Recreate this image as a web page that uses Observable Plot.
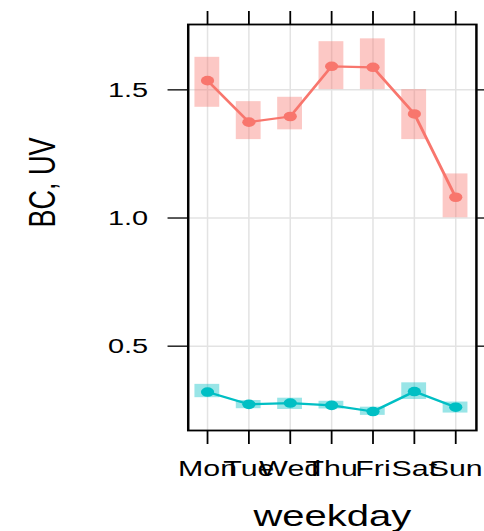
<!DOCTYPE html>
<html><head><meta charset="utf-8">
<script src="https://cdn.jsdelivr.net/npm/d3@7"></script>
<script src="https://cdn.jsdelivr.net/npm/@observablehq/plot@0.6"></script>
<style>html,body{margin:0;padding:0;background:#fff;} #chart svg{display:block}</style>
</head><body><div id="chart"></div>
<script>
const days = ["Mon","Tue","Wed","Thu","Fri","Sat","Sun"];
const seriesNames = ["BC","UV"];
const seriesColors = ["#F8766D","#00BFC4"];
const bcMean  = [1.536,1.374,1.396,1.592,1.588,1.406,1.081];
const bcLower = [1.432,1.306,1.344,1.501,1.501,1.306,1.001];
const bcUpper = [1.627,1.454,1.471,1.688,1.699,1.501,1.172];
const uvMean  = [0.321,0.273,0.278,0.269,0.245,0.323,0.262];
const uvLower = [0.299,0.256,0.253,0.255,0.230,0.292,0.239];
const uvUpper = [0.351,0.288,0.297,0.285,0.262,0.357,0.282];
const yTicks = [0.5,1.0,1.5];
const yDomain = [0.171,1.755];
const yLabel = "BC, UV";
const xLabel = "weekday";

const rows = [];
days.forEach((d,i)=>{
  rows.push({day:d, series:"BC", mean:bcMean[i], lower:bcLower[i], upper:bcUpper[i]});
  rows.push({day:d, series:"UV", mean:uvMean[i], lower:uvLower[i], upper:uvUpper[i]});
});

const W = 351, H = 531, SX = 484;
const plot = Plot.plot({
  width: W, height: H,
  marginLeft: 136, marginRight: 6, marginTop: 24, marginBottom: 101,
  style: {fontFamily: "'Liberation Sans', Arial, sans-serif", color: "#000", background: "#fff"},
  x: {type: "band", domain: days, paddingInner: 0.39, paddingOuter: 0.12},
  y: {domain: yDomain},
  color: {domain: seriesNames, range: seriesColors},
  marks: [
    Plot.gridX(days, {stroke: "#e3e3e3", strokeOpacity: 1, strokeWidth: 1.1}),
    Plot.gridY(yTicks, {stroke: "#e3e3e3", strokeOpacity: 1, strokeWidth: 1.5}),
    Plot.barY(rows, {x: "day", y1: "lower", y2: "upper", fill: "series", fillOpacity: 0.4}),
    Plot.line(rows, {x: "day", y: "mean", z: "series", stroke: "series", strokeWidth: 2.2}),
    Plot.dot(rows, {x: "day", y: "mean", fill: "series", r: 4.8}),
    Plot.frame({stroke: "#000", strokeWidth: 1.8}),
    Plot.axisX(days, {anchor: "bottom", tickSize: 14, tickPadding: 15.5, fontSize: 22, label: null, strokeWidth: 1.3}),
    Plot.axisX(days, {anchor: "top", tickSize: 14, text: null, label: null, strokeWidth: 1.3}),
    Plot.axisY(yTicks, {anchor: "left", tickSize: 14.5, tickPadding: 14.5, fontSize: 21, label: null, tickFormat: d3.format(".1f"), strokeWidth: 1.3}),
    Plot.axisY(yTicks, {anchor: "right", tickSize: 14.5, text: null, label: null, strokeWidth: 1.3}),
    Plot.text([yLabel], {text: d => d, frameAnchor: "left", rotate: -90, dx: -96.5, lineAnchor: "bottom", fontSize: 27, fill: "#000"}),
    Plot.text([xLabel], {text: d => d, frameAnchor: "bottom", dy: 95, lineAnchor: "bottom", fontSize: 29, fill: "#000"})
  ]
});
plot.setAttribute("width", SX);
plot.setAttribute("height", H);
plot.setAttribute("preserveAspectRatio", "none");
plot.style.width = SX + "px";
plot.style.height = H + "px";
plot.style.maxWidth = "none";
document.getElementById("chart").appendChild(plot);
</script>
</body></html>
